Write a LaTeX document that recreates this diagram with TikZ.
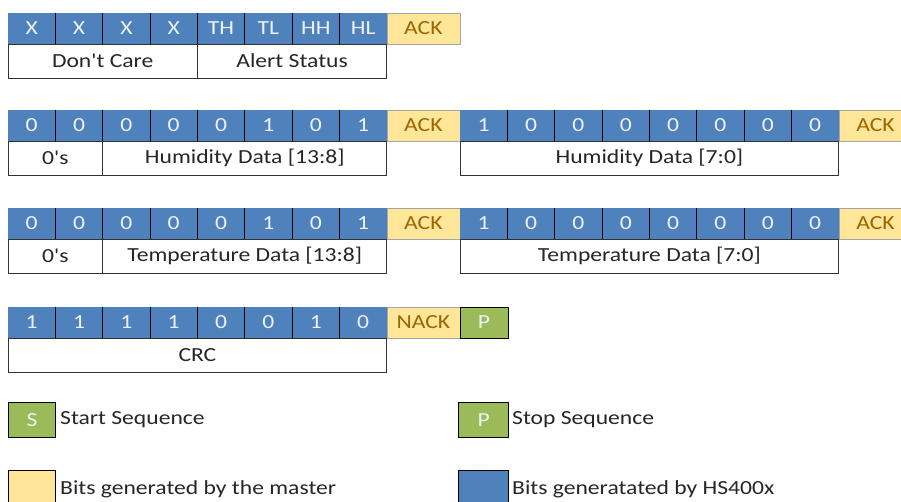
\documentclass[tikz,border=0pt]{standalone}
\usepackage{fontspec}
\setmainfont{Carlito}[FakeStretch=1.18, Ligatures=TeXOff]
\definecolor{hsblue}{HTML}{4F81BD}
\definecolor{mastery}{HTML}{FFE699}
\definecolor{acktext}{HTML}{9C6500}
\definecolor{seqgreen}{HTML}{9BBB59}
\definecolor{bittxt}{HTML}{EEF2F8}
\definecolor{lbltxt}{HTML}{262626}
\begin{document}
\begin{tikzpicture}[x=1pt,y=-1pt,
  font=\fontsize{20}{24}\selectfont,
  cellbase/.style={anchor=north west, inner sep=0pt, outer sep=0pt, minimum height=31pt},
  bitcell/.style={cellbase, fill=hsblue, text=bittxt, minimum width=47.35pt},
  divider/.style={draw=black, line width=1.1pt},
  ackcell/.style={cellbase, draw=gray!70, line width=0.6pt, fill=mastery, text=acktext, minimum width=73.2pt},
  stopcell/.style={cellbase, draw=black, line width=0.9pt, fill=seqgreen, text=bittxt, minimum width=48pt},
  lblcell/.style={anchor=north west, inner sep=0pt, outer sep=0pt, draw=black!80, line width=0.8pt, fill=white, text=lbltxt, minimum height=34pt},
  legbox/.style={anchor=north west, inner sep=0pt, draw=black, line width=1.3pt, minimum height=35pt},
  legtext/.style={anchor=west, inner sep=0pt, text=lbltxt}]
\useasboundingbox (0,0) rectangle (901,502);
\clip (0,0) rectangle (901,502);
% Row 1
\foreach \v [count=\i from 0] in {X,X,X,X,TH,TL,HH,HL}
  \node[bitcell] (r1b\i) at ({8+\i*47.35},13) {\v};
\node[ackcell] (r1ack) at (386.8,13) {ACK};
\node[lblcell, minimum width=189.4pt] (r1l1) at (8,44) {Don't Care};
\node[lblcell, minimum width=189.4pt] (r1l2) at (197.4,44) {Alert Status};
\foreach \i in {1,...,7} \draw[divider] (r1b\i.north west) -- (r1b\i.south west);
% Row 2
\foreach \v [count=\i from 0] in {0,0,0,0,0,1,0,1}
  \node[bitcell] (r2a\i) at ({8+\i*47.35},110) {\v};
\node[ackcell] (r2ack1) at (386.8,110) {ACK};
\foreach \v [count=\i from 0] in {1,0,0,0,0,0,0,0}
  \node[bitcell] (r2b\i) at ({460+\i*47.35},110) {\v};
\node[ackcell] (r2ack2) at (838.8,110) {ACK};
\node[lblcell, minimum width=94.7pt] (r2l1) at (8,141) {0's};
\node[lblcell, minimum width=284.1pt] (r2l2) at (102.7,141) {Humidity Data [13:8]};
\node[lblcell, minimum width=378.8pt] (r2l3) at (460,141) {Humidity Data [7:0]};
\foreach \i in {1,...,7} \draw[divider] (r2a\i.north west) -- (r2a\i.south west);
\foreach \i in {1,...,7} \draw[divider] (r2b\i.north west) -- (r2b\i.south west);
% Row 3
\foreach \v [count=\i from 0] in {0,0,0,0,0,1,0,1}
  \node[bitcell] (r3a\i) at ({8+\i*47.35},208) {\v};
\node[ackcell] (r3ack1) at (386.8,208) {ACK};
\foreach \v [count=\i from 0] in {1,0,0,0,0,0,0,0}
  \node[bitcell] (r3b\i) at ({460+\i*47.35},208) {\v};
\node[ackcell] (r3ack2) at (838.8,208) {ACK};
\node[lblcell, minimum width=94.7pt] (r3l1) at (8,239) {0's};
\node[lblcell, minimum width=284.1pt] (r3l2) at (102.7,239) {Temperature Data [13:8]};
\node[lblcell, minimum width=378.8pt] (r3l3) at (460,239) {Temperature Data [7:0]};
\foreach \i in {1,...,7} \draw[divider] (r3a\i.north west) -- (r3a\i.south west);
\foreach \i in {1,...,7} \draw[divider] (r3b\i.north west) -- (r3b\i.south west);
% Row 4
\foreach \v [count=\i from 0] in {1,1,1,1,0,0,1,0}
  \node[bitcell] (r4b\i) at ({8+\i*47.35},307) {\v};
\node[ackcell] (r4nack) at (386.8,307) {NACK};
\node[stopcell] (r4p) at (460,307) {P};
\node[lblcell, minimum width=378.8pt] (r4l1) at (8,338) {CRC};
\foreach \i in {1,...,7} \draw[divider] (r4b\i.north west) -- (r4b\i.south west);
% Legend
\node[legbox, fill=seqgreen, text=bittxt, minimum width=47pt] (legS) at (8,402) {S};
\node[legtext] (legSt) at (60,420) {Start Sequence};
\node[legbox, fill=seqgreen, text=bittxt, minimum width=50pt] (legP) at (458,402) {P};
\node[legtext] (legPt) at (512,420) {Stop Sequence};
\node[legbox, fill=mastery, minimum width=47pt] (legY) at (8,470) {};
\node[legtext] (legYt) at (60,489) {Bits generated by the master};
\node[legbox, fill=hsblue, minimum width=50pt] (legB) at (458,470) {};
\node[legtext] (legBt) at (512,489) {Bits generatated by HS400x};
\end{tikzpicture}
\end{document}
